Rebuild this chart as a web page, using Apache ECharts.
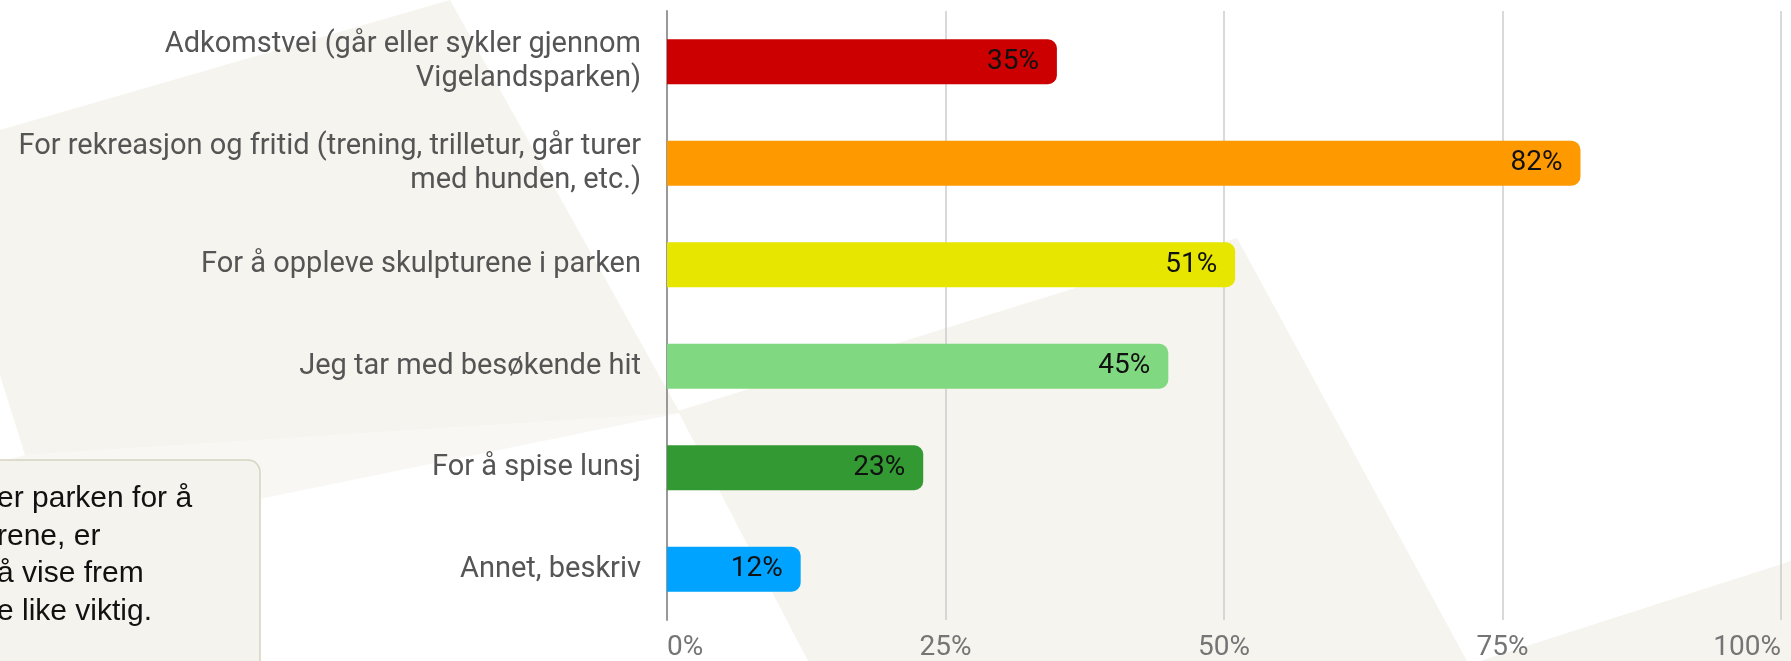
<!DOCTYPE html>
<html>
<head>
<meta charset="utf-8">
<script src="https://cdn.jsdelivr.net/npm/echarts@6/dist/echarts.min.js"></script>
<style>
  html, body { margin: 0; padding: 0; background: #fff; }
  #chart { width: 1791px; height: 661px; }
</style>
</head>
<body>
<div id="chart"></div>
<script>
var categories = [
  "Adkomstvei (går eller sykler gjennom\nVigelandsparken)",
  "For rekreasjon og fritid (trening, trilletur, går turer\nmed hunden, etc.)",
  "For å oppleve skulpturene i parken",
  "Jeg tar med besøkende hit",
  "For å spise lunsj",
  "Annet, beskriv"
];
var values = [35, 82, 51, 45, 23, 12];
var tickValues = [0, 25, 50, 75, 100];
var noteLines = ["er parken for å", "rene, er", "å vise frem", "e like viktig."];

var barColors = ["#cc0000", "#ff9900", "#e6e600", "#80d880", "#339933", "#00a3ff"];
var shade = "#f5f4ee";

var myChart = echarts.init(document.getElementById("chart"));

var option = {
  backgroundColor: "#ffffff",
  animation: false,
  graphic: [
    // faint background shapes
    { type: "polygon", z: -10, silent: true,
      shape: { points: [[0, 130], [450, 0], [680, 413], [25, 455], [0, 375]] },
      style: { fill: shade } },
    { type: "polygon", z: -11, silent: true,
      shape: { points: [[0, 462], [25, 455], [680, 413], [0, 552]] },
      style: { fill: "#f8f7f3" } },
    { type: "polygon", z: -10, silent: true,
      shape: { points: [[678, 411], [1237, 238], [1467, 661], [808, 661]] },
      style: { fill: shade } },
    { type: "polygon", z: -10, silent: true,
      shape: { points: [[1791, 561], [1791, 661], [1480, 661]] },
      style: { fill: shade } },
    // note box, cut off at the left edge
    { type: "rect", z: 100,
      shape: { x: -20, y: 460, width: 280, height: 240, r: 12 },
      style: { fill: "#f4f3ed", stroke: "#d5d3c0", lineWidth: 1.5 } },
    { type: "text", z: 101, x: -3, y: 480,
      style: {
        text: noteLines.join("\n"),
        font: '30px "Liberation Sans", Arial, sans-serif',
        lineHeight: 37.5,
        fill: "#111111"
      } }
  ],
  grid: { left: 667, right: 10, top: 11, bottom: 41, containLabel: false, outerBoundsMode: "none" },
  xAxis: {
    type: "value",
    min: tickValues[0],
    max: tickValues[tickValues.length - 1],
    interval: 25,
    axisLine: { show: false },
    axisTick: { show: false },
    axisLabel: {
      formatter: "{value}%",
      color: "#757575",
      fontFamily: "Roboto",
      fontSize: 28,
      margin: 14,
      alignMinLabel: "left",
      alignMaxLabel: "right"
    },
    splitLine: { lineStyle: { color: "#cccccc", width: 1.5 } }
  },
  yAxis: {
    type: "category",
    inverse: true,
    data: categories,
    axisLine: { show: true, lineStyle: { color: "#999999", width: 2 } },
    axisTick: { show: false },
    axisLabel: {
      color: "#555555",
      fontFamily: "Roboto",
      fontSize: 29,
      lineHeight: 34,
      align: "right",
      margin: 26
    }
  },
  series: [
    {
      type: "bar",
      barWidth: 45,
      data: values.map(function (v, i) {
        return { value: v, itemStyle: { color: barColors[i] } };
      }),
      itemStyle: { borderRadius: [0, 9, 9, 0] },
      label: {
        show: true,
        position: "insideRight",
        distance: 18,
        formatter: "{c}%",
        color: "#111111",
        fontFamily: "Roboto",
        fontSize: 28
      }
    }
  ]
};
myChart.setOption(option);
</script>
</body>
</html>
